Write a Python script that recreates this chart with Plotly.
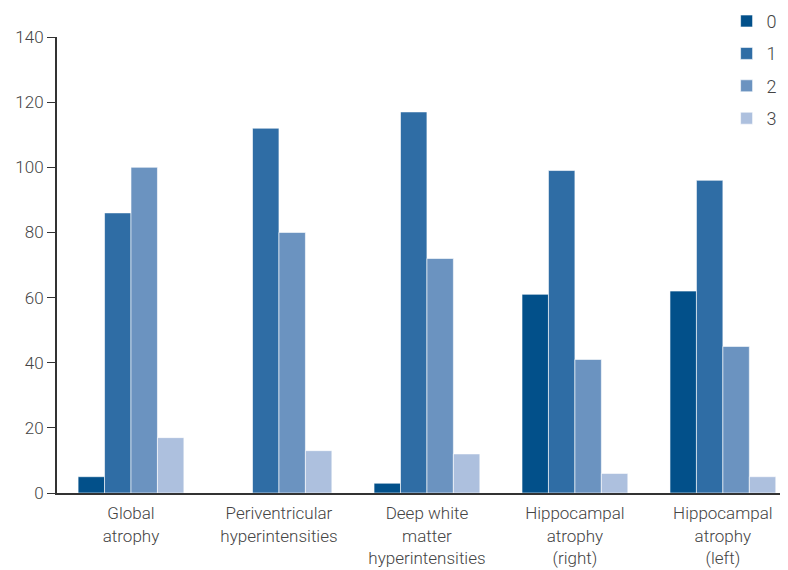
import plotly.graph_objects as go

categories = ["Global<br>atrophy", "Periventricular<br>hyperintensities",
              "Deep white<br>matter<br>hyperintensities",
              "Hippocampal<br>atrophy<br>(right)", "Hippocampal<br>atrophy<br>(left)"]
series_names = ["0", "1", "2", "3"]
score0 = [5, 0, 3, 61, 62]
score1 = [86, 112, 117, 99, 96]
score2 = [100, 80, 72, 41, 45]
score3 = [17, 13, 12, 6, 5]
colors = ["#02508a", "#2f6da5", "#6b93c0", "#adc0de"]

fig = go.Figure()
for name, vals, c in zip(series_names, [score0, score1, score2, score3], colors):
    fig.add_trace(go.Bar(x=categories, y=vals, name=name, legendgroup=name,
                         marker=dict(color=c, line=dict(color="rgba(255,255,255,0.6)", width=1))))

fig.update_layout(
    width=780, height=562,
    margin=dict(l=49, r=0, t=29, b=77, autoexpand=False),
    plot_bgcolor="white", paper_bgcolor="white",
    font=dict(family="Roboto, sans-serif", size=17, color="#444", weight=300),
    barmode="group", bargap=0.285, bargroupgap=0,
    showlegend=True,
    legend=dict(x=0.916, y=1.075, xanchor="left", yanchor="top",
                bgcolor="rgba(0,0,0,0)", font=dict(size=18, color="#444", weight=300),
                tracegroupgap=6, itemwidth=30),
    xaxis=dict(range=[-0.5, 4.44], showline=True, linecolor="#333", linewidth=2,
               ticks="", automargin=False, ticklabelstandoff=4,
               tickfont=dict(size=17, color="#444")),
    yaxis=dict(range=[0, 140], tickvals=[0, 20, 40, 60, 80, 100, 120, 140],
               showline=True, linecolor="#333", linewidth=2, ticks="outside",
               ticklen=8, tickcolor="#333", showgrid=False, zeroline=False,
               automargin=False, tickfont=dict(size=17, color="#444")),
)
fig.write_html("out.html")
